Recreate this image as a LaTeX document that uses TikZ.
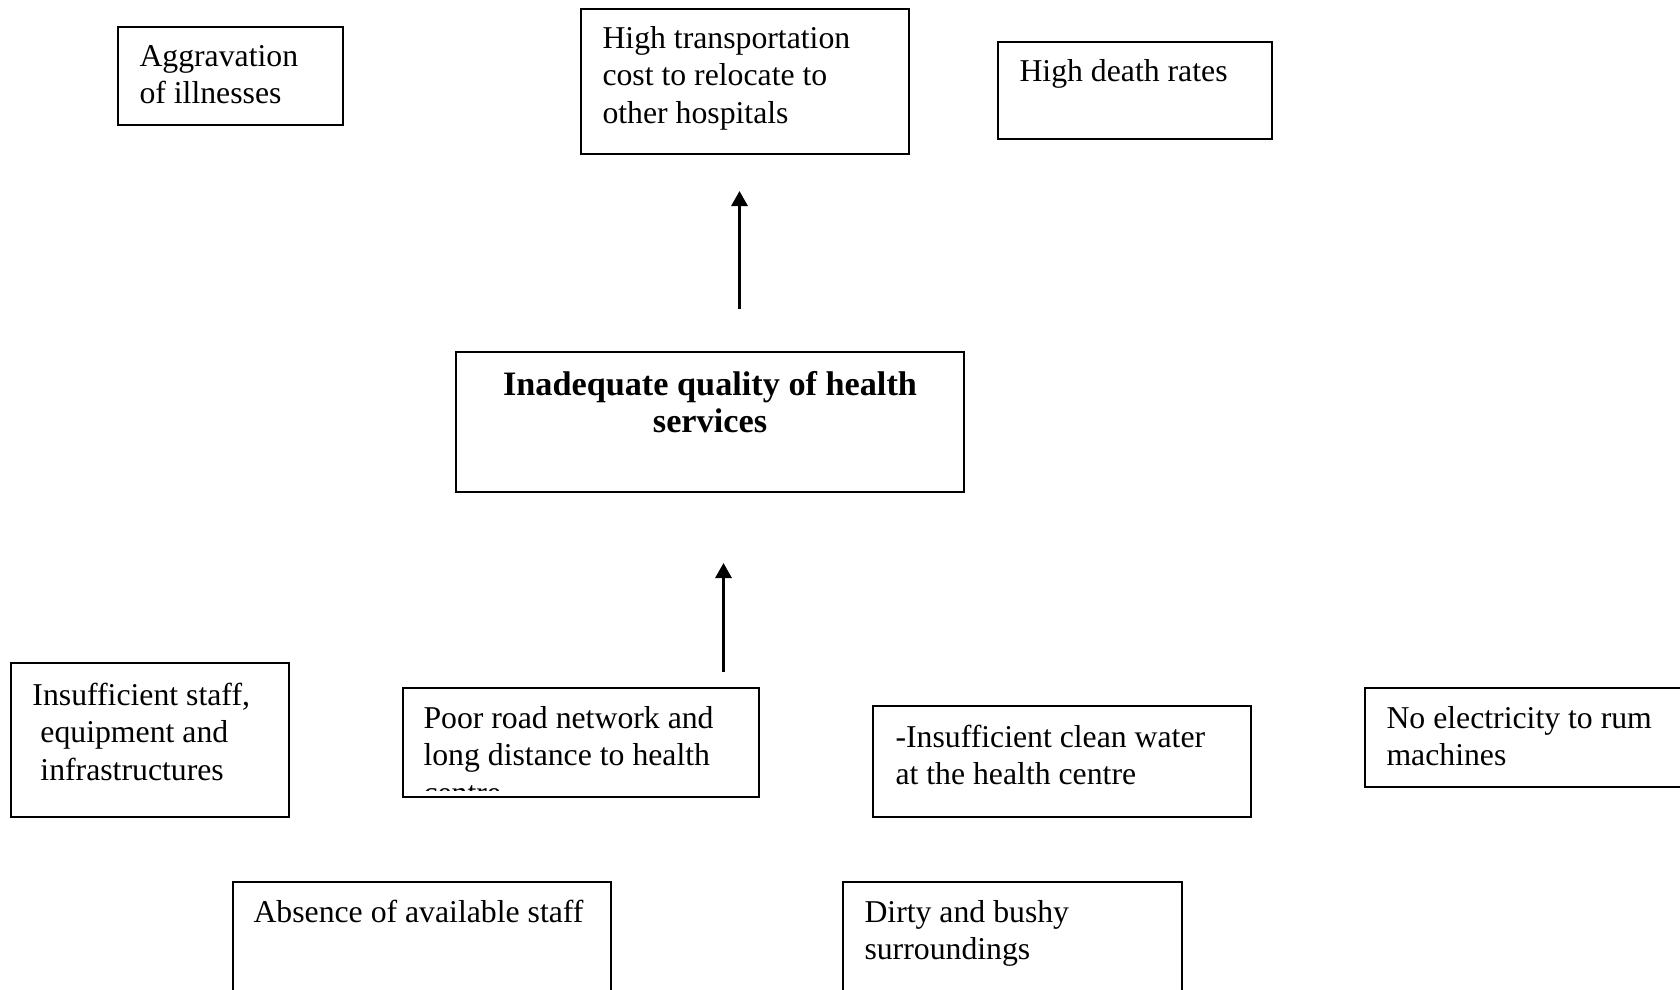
\documentclass[tikz,border=0pt]{standalone}
\usepackage{fontspec}
\setmainfont{Liberation Serif}
\usetikzlibrary{arrows.meta}
\begin{document}
\begin{tikzpicture}[x=0.4pt,y=-0.4pt,
  box/.style={draw=black,line width=0.8pt,inner sep=0pt},
  txt/.style={anchor=base west,inner sep=0pt,align=left,font=\fontsize{12.7}{14.9}\selectfont},
  ttl/.style={anchor=base,inner sep=0pt,align=center,font=\fontsize{13.7}{14.9}\selectfont\bfseries},
  arr/.style={line width=1.2pt,-{Triangle[length=6pt,width=6.4pt]}}]
\useasboundingbox (0,0) rectangle (1680,989);
\clip (0,0) rectangle (1680,989);

% outcome boxes
\draw[box] (118,27) rectangle (343,125);
\draw[box] (581,9) rectangle (909,154);
\draw[box] (998,42) rectangle (1272,139);
% core problem
\draw[box] (456,352) rectangle (964,492);
% cause boxes
\draw[box] (11,663) rectangle (289,817);
\draw[box] (403,688) rectangle (759,797);
\draw[box] (873,706) rectangle (1251,817);
\draw[box] (1365,688) rectangle (1700,787);
\draw[box] (233,882) rectangle (611,1010);
\draw[box] (843,882) rectangle (1182,1010);

% texts (anchored at the baseline of their last line)
\node[txt] (agg) at (139,103.5) {Aggravation\\of illnesses};
\node[txt] (cost) at (602,123) {High transportation\\cost to relocate to\\other hospitals};
\node[txt] (death) at (1019,81) {High death rates};
\node[ttl] (core) at (710,432.5) {Inadequate quality of health\\services};
\node[txt] (staff) at (32,780) {Insufficient staff,\\\ equipment and\\\ infrastructures};
\begin{scope}
  \clip (403,688) rectangle (759,790);
  \node[txt] (road) at (423,803) {Poor road network and\\long distance to health\\centre};
\end{scope}
\node[txt] (water) at (895,784.5) {-Insufficient clean water\\at the health centre};
\node[txt] (elec) at (1386,765.5) {No electricity to rum\\machines};
\node[txt] (absent) at (253,922) {Absence of available staff};
\node[txt] (dirty) at (864,959.5) {Dirty and bushy\\surroundings};

% arrows
\coordinate (upS) at (739.5,309);
\coordinate (upE) at (739.5,191);
\coordinate (loS) at (723.5,672);
\coordinate (loE) at (723.5,563);
\draw[arr] (upS) -- (upE);
\draw[arr] (loS) -- (loE);
\end{tikzpicture}
\end{document}
